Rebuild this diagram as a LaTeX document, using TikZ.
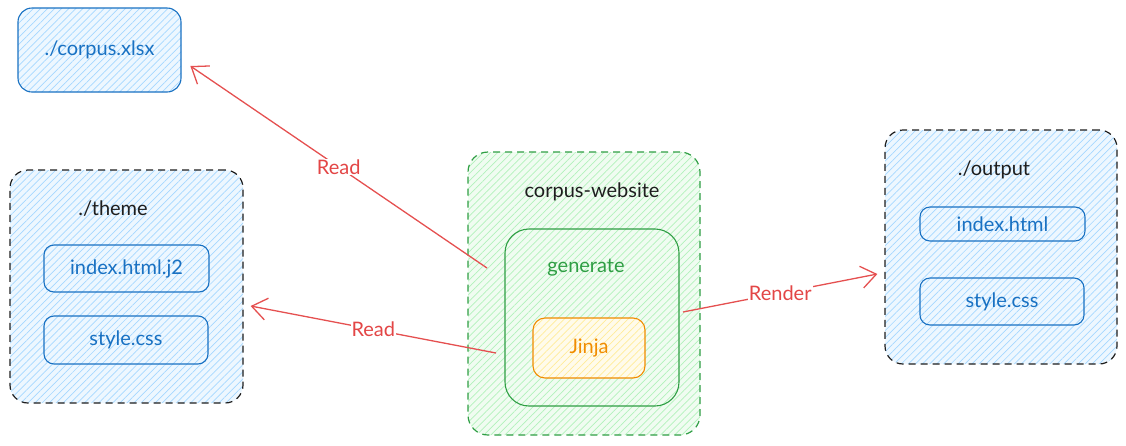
\documentclass[tikz,border=0pt]{standalone}
\usepackage{fontspec}
\setmainfont{Lato}
\usetikzlibrary{arrows.meta}
\usetikzlibrary{patterns.meta}
\usetikzlibrary{positioning}

\definecolor{xblue}{HTML}{1971C2}
\definecolor{xbluefill}{HTML}{A5D8FF}
\definecolor{xgreen}{HTML}{2F9E44}
\definecolor{xgreenfill}{HTML}{B2F2BB}
\definecolor{xorange}{HTML}{F08C00}
\definecolor{xorangefill}{HTML}{FFEC99}
\definecolor{xred}{HTML}{E03131}
\definecolor{xdark}{HTML}{1E1E1E}

\tikzset{
  hatch/.style={preaction={fill=#1!20}, pattern={Lines[angle=45,distance=5pt,line width=0.7pt]}, pattern color=#1},
  folder/.style={draw=xdark, line width=1.2pt, dash pattern=on 7pt off 5pt, rounded corners=18pt, hatch=xbluefill},
  filebox/.style={draw=xblue, line width=1.1pt, rounded corners=10pt, text=xblue},
  readarrow/.style={draw=xred!85, line width=1.3pt, -{Straight Barb[length=15pt,width=22pt,line width=1.3pt]}},
  arrowlabel/.style={midway, fill=white, text=xred!90, inner sep=1pt}
}

\begin{document}
\begin{tikzpicture}[x=1pt, y=-1pt, font=\fontsize{20}{22}\selectfont]
    \useasboundingbox (0,0) rectangle (1126,445);

    % source spreadsheet
    \node[filebox, hatch=xbluefill, minimum width=163pt, minimum height=84pt, rounded corners=14pt] (xlsx) at (99.5,50) {./corpus.xlsx};

    % theme folder
    \node[folder, minimum width=233pt, minimum height=233pt] (theme) at (126.5,286.5) {};
    \node[text=xdark] (themelbl) at (113,209) {./theme};
    \node[filebox, minimum width=165pt, minimum height=47pt] (themeidx) at (126.5,268.5) {index.html.j2};
    \node[filebox, minimum width=164pt, minimum height=48pt] (themecss) at (126,340) {style.css};

    % generator
    \node[draw=xgreen, line width=1.2pt, dash pattern=on 7pt off 5pt, rounded corners=20pt, hatch=xgreenfill, minimum width=232pt, minimum height=283pt] (website) at (584,293.5) {};
    \node[text=xdark] (websitelbl) at (592,192) {corpus-website};
    \node[draw=xgreen, line width=1.1pt, rounded corners=24pt, minimum width=174pt, minimum height=177pt] (generate) at (592,317.5) {};
    \node[text=xgreen] (generatelbl) at (586,268) {generate};
    \node[draw=xorange, line width=1.1pt, rounded corners=12pt, hatch=xorangefill, text=xorange, minimum width=112pt, minimum height=60pt] (jinja) at (589,348) {Jinja};

    % output folder
    \node[folder, minimum width=232pt, minimum height=234pt] (output) at (1001,247) {};
    \node[text=xdark] (outputlbl) at (994,170) {./output};
    \node[filebox, minimum width=165pt, minimum height=34pt] (outidx) at (1002.5,224) {index.html};
    \node[filebox, minimum width=164pt, minimum height=47pt] (outcss) at (1002,301.5) {style.css};

    % connectors
    \coordinate (rdxlsx) at (487,268);
    \coordinate (rdtheme) at (496,353);
    \coordinate (rdrender) at (683,312);

    \draw[readarrow] (rdxlsx) -- ([xshift=9pt,yshift=-16pt]xlsx.east) node[arrowlabel] {Read};
    \draw[readarrow] (rdtheme) -- ([xshift=7pt,yshift=-19.5pt]theme.east) node[arrowlabel] {Read};
    \draw[readarrow] (rdrender) -- ([xshift=-7pt,yshift=-27pt]output.west) node[arrowlabel] {Render};

  \end{tikzpicture}
\end{document}
